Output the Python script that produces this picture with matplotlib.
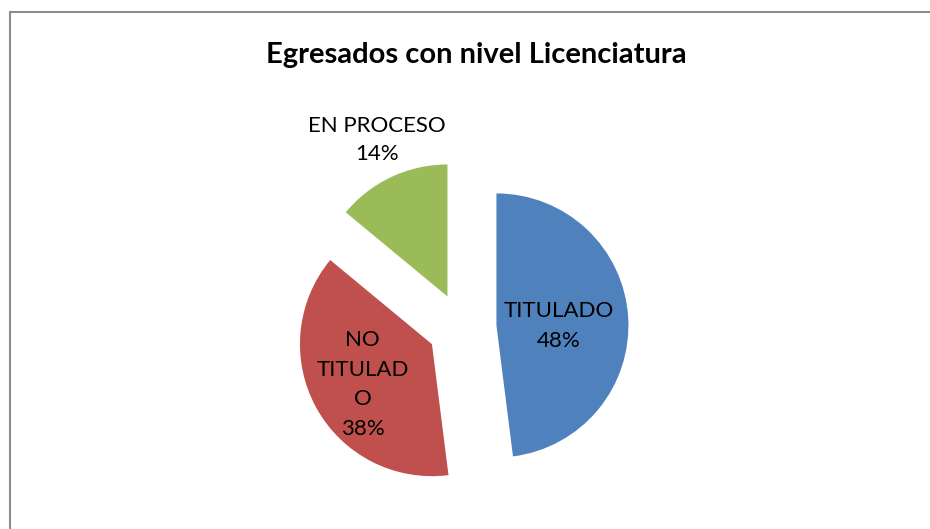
import matplotlib
matplotlib.use("Agg")
import matplotlib.pyplot as plt
from matplotlib.patches import Rectangle

plt.rcParams['font.family'] = ['Lato', 'DejaVu Sans']

# Data
categories = ["TITULADO", "NO TITULADO", "EN PROCESO"]
values = [48, 38, 14]
label_texts = ["TITULADO\n48%", "NO\nTITULAD\nO\n38%", "EN PROCESO\n14%"]
title = "Egresados con nivel Licenciatura"

colors = ["#4F81BD", "#C0504D", "#9BBB59"]

W, H = 930, 529
fig = plt.figure(figsize=(W / 100, H / 100), dpi=100)
ax = fig.add_axes([0, 0, 1, 1])

radius = 132
center = (462.1, H - 327.6)
explode = [34.4, 34.4, 34.4]

wedges, _ = ax.pie(values, colors=colors, startangle=90, counterclock=False,
                   radius=radius, center=center, explode=explode,
                   wedgeprops=dict(linewidth=0))

ax.set_xlim(0, W)
ax.set_ylim(0, H)
ax.set_aspect('equal')
ax.axis('off')

# frame
ax.add_patch(Rectangle((10, -5), W + 10, (H - 12) + 5, fill=False,
                       edgecolor="#8C8C8C", linewidth=1.5, clip_on=False))

# labels (pixel positions from the top)
label_pos = [(559, 326), (362.5, 384.5), (377, 140)]
spacings = [1.6, 1.62, 1.52]
for txt, (px, py), ls in zip(label_texts, label_pos, spacings):
    ax.text(px, H - py, txt, ha='center', va='center', fontsize=16,
            linespacing=ls, color='black')

ax.text(476.5, H - 55, title, ha='center', va='center', fontsize=21,
        fontweight='bold', color='black')

fig.savefig("out.png", dpi=100)
